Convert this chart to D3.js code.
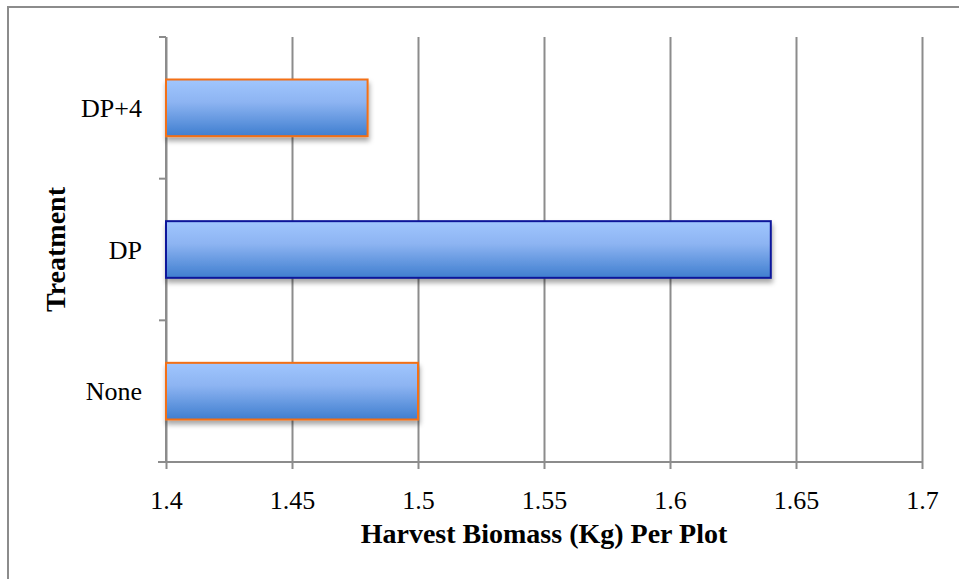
<!DOCTYPE html>
<html>
<head>
<meta charset="utf-8">
<script src="https://cdn.jsdelivr.net/npm/d3@7"></script>
<style>
   body { margin: 0; background: #fff; }
   text { font-family: "Liberation Serif", serif; fill: #000; }
</style>
</head>
<body>
<div id="chart"></div>
<script>
// categories top to bottom, with values
const categories = ['DP+4', 'DP', 'None'];
const values = [1.48, 1.64, 1.5];
const strokeColors = ['#f36f13', '#0b169a', '#f36f13'];
const xTicks = [1.4, 1.45, 1.5, 1.55, 1.6, 1.65, 1.7];

const width = 959;
const height = 579;
const margin = { top: 37, bottom: 117, left: 166, right: 37 };

const svg = d3.select('#chart')
   .append('svg')
   .attr('width', width)
   .attr('height', height);

// outer frame, runs off the right and bottom edges
svg.append('rect')
   .attr('x', 8)
   .attr('y', 7)
   .attr('width', width + 20)
   .attr('height', height + 20)
   .attr('fill', 'none')
   .attr('stroke', '#8c8c8c')
   .attr('stroke-width', 2);

const defs = svg.append('defs');
const grad = defs.append('linearGradient')
   .attr('id', 'barFill')
   .attr('x1', 0).attr('y1', 0)
   .attr('x2', 0).attr('y2', 1);
grad.append('stop').attr('offset', '0%').attr('stop-color', '#a0c6fe');
grad.append('stop').attr('offset', '40%').attr('stop-color', '#8db4f2');
grad.append('stop').attr('offset', '100%').attr('stop-color', '#3f7ecf');

const shadow = defs.append('filter')
   .attr('id', 'shadow')
   .attr('x', '-10%').attr('y', '-20%')
   .attr('width', '130%').attr('height', '160%');
shadow.append('feDropShadow')
   .attr('dx', 1)
   .attr('dy', 4)
   .attr('stdDeviation', 2.5)
   .attr('flood-color', '#000')
   .attr('flood-opacity', 0.35);

const chartWidth = width - margin.left - margin.right;
const chartHeight = height - margin.top - margin.bottom;

const chart = svg.append('g')
   .attr('transform', `translate(${margin.left},${margin.top})`);

const xScale = d3.scaleLinear()
   .domain([1.4, 1.7])
   .range([0, chartWidth]);

const yScale = d3.scaleBand()
   .domain(categories)
   .range([0, chartHeight])
   .paddingInner(0.6)
   .paddingOuter(0.3);

// vertical gridlines
const xGrid = d3.axisBottom(xScale)
   .tickValues(xTicks)
   .tickSize(chartHeight + 7)
   .tickFormat('');

chart.append('g')
   .classed('gridline', true)
   .call(xGrid)
   .call(g => g.select('.domain').remove())
   .call(g => g.selectAll('line').attr('stroke', '#8c8c8c').attr('stroke-width', 2));

// x axis line and labels
const xAxis = d3.axisBottom(xScale)
   .tickValues(xTicks)
   .tickSize(0)
   .tickPadding(29)
   .tickFormat(d => d3.format('')(+d.toFixed(2)));

chart.append('g')
   .classed('x axis', true)
   .attr('transform', `translate(0,${chartHeight})`)
   .call(xAxis)
   .call(g => g.select('.domain').remove())
   .call(g => g.selectAll('text')
      .style('font-size', '26px')
      .style('font-family', '"Liberation Serif", serif'));

chart.append('line')
   .attr('x1', -8)
   .attr('x2', chartWidth)
   .attr('y1', chartHeight)
   .attr('y2', chartHeight)
   .attr('stroke', '#8c8c8c')
   .attr('stroke-width', 2);

// y axis with ticks between categories
const bounds = categories.map(c => yScale(c) - yScale.step() * yScale.paddingOuter())
   .concat([chartHeight]);

chart.selectAll('.y-tick')
   .data(bounds)
   .enter()
   .append('line')
   .classed('y-tick', true)
   .attr('x1', -7)
   .attr('x2', 0)
   .attr('y1', d => d)
   .attr('y2', d => d)
   .attr('stroke', '#8c8c8c')
   .attr('stroke-width', 2);

chart.append('line')
   .attr('x1', 0).attr('x2', 0)
   .attr('y1', 0).attr('y2', chartHeight)
   .attr('stroke', '#8c8c8c')
   .attr('stroke-width', 2);

chart.selectAll('.cat-label')
   .data(categories)
   .enter()
   .append('text')
   .classed('cat-label', true)
   .attr('x', -24)
   .attr('y', d => yScale(d) + yScale.bandwidth() / 2)
   .attr('dy', '0.35em')
   .style('text-anchor', 'end')
   .style('font-size', '26px')
   .text(d => d);

// bars
chart.selectAll('.bar')
   .data(categories)
   .enter()
   .append('rect')
   .classed('bar', true)
   .attr('x', xScale(1.4))
   .attr('y', d => yScale(d))
   .attr('width', (d, i) => xScale(values[i]) - xScale(1.4))
   .attr('height', yScale.bandwidth())
   .attr('fill', 'url(#barFill)')
   .attr('stroke', (d, i) => strokeColors[i])
   .attr('stroke-width', 2)
   .attr('filter', 'url(#shadow)');

// axis titles
chart.append('text')
   .attr('x', chartWidth / 2)
   .attr('y', chartHeight + 81)
   .style('text-anchor', 'middle')
   .style('font-size', '28px')
   .style('font-weight', 'bold')
   .text('Harvest Biomass (Kg) Per Plot');

chart.append('text')
   .attr('transform', `translate(${-101}, ${chartHeight / 2}) rotate(-90)`)
   .style('text-anchor', 'middle')
   .style('font-size', '28px')
   .style('font-weight', 'bold')
   .text('Treatment');
</script>
</body>
</html>
